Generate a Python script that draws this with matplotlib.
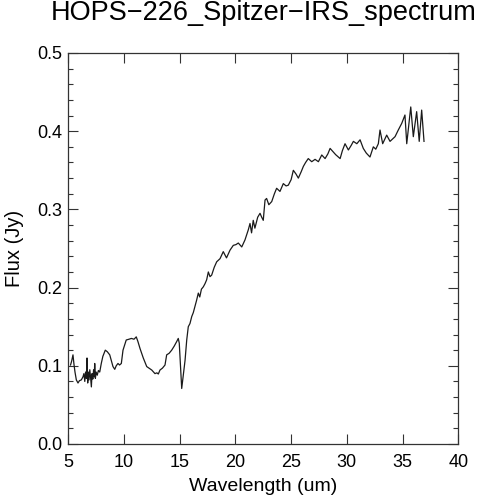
import matplotlib
matplotlib.use('Agg')
import matplotlib.pyplot as plt
from matplotlib.ticker import MultipleLocator

plt.rcParams['font.family'] = ['Liberation Sans', 'DejaVu Sans']

# spectrum (wavelength in um, flux in Jy)
wave = [5.2, 5.3, 5.42, 5.5, 5.6, 5.72, 5.87, 6.0, 6.17, 6.32, 6.4, 6.48, 6.55, 6.62,
        6.68, 6.74, 6.8, 6.86, 6.93, 7.0, 7.07, 7.13, 7.2, 7.27, 7.33, 7.37, 7.43,
        7.5, 7.6, 7.7, 7.82, 7.96, 8.1, 8.32, 8.5, 8.72, 9.01, 9.17, 9.3, 9.46,
        9.6, 9.76, 9.91, 10.2, 10.45, 10.66, 10.9, 11.1, 11.25, 11.44, 11.73, 12.04,
        12.25, 12.49, 12.78, 12.95, 13.08, 13.23, 13.45, 13.68, 13.83, 14.05, 14.28,
        14.5, 14.73, 14.87, 14.96, 15.18, 15.48, 15.63, 15.77, 15.92, 16.08, 16.22,
        16.37, 16.52, 16.67, 16.8, 16.95, 17.12, 17.27, 17.42, 17.57, 17.72, 17.87,
        18.1, 18.32, 18.62, 18.91, 19.2, 19.52, 19.81, 20.05, 20.26, 20.57, 20.86,
        21.16, 21.31, 21.45, 21.6, 21.75, 22.0, 22.21, 22.36, 22.5, 22.66, 22.8,
        23.0, 23.26, 23.5, 23.7, 24.0, 24.3, 24.55, 24.75, 25.0, 25.2, 25.45, 25.65,
        25.9, 26.1, 26.3, 26.54, 26.85, 27.15, 27.45, 27.75, 28.05, 28.3, 28.5,
        28.75, 29.0, 29.4, 29.6, 29.84, 30.14, 30.4, 30.59, 30.9, 31.19, 31.48,
        31.75, 32.08, 32.38, 32.6, 32.83, 32.98, 33.22, 33.58, 33.88, 34.1, 34.33,
        34.62, 34.93, 35.22, 35.38, 35.74, 35.97, 36.27, 36.5, 36.72, 36.93]
flux = [0.101, 0.106, 0.114, 0.103, 0.092, 0.082, 0.078, 0.081, 0.082, 0.086, 0.090,
        0.080, 0.092, 0.084, 0.110, 0.078, 0.092, 0.082, 0.095, 0.085, 0.073, 0.090,
        0.083, 0.095, 0.086, 0.103, 0.084, 0.092, 0.088, 0.094, 0.092, 0.103, 0.112,
        0.120, 0.118, 0.114, 0.099, 0.0955, 0.100, 0.103, 0.101, 0.103, 0.120, 0.133,
        0.134, 0.135, 0.134, 0.137, 0.131, 0.122, 0.110, 0.099, 0.097, 0.0946, 0.090,
        0.091, 0.0895, 0.0946, 0.097, 0.101, 0.114, 0.116, 0.120, 0.125, 0.131, 0.135,
        0.129, 0.071, 0.107, 0.133, 0.150, 0.154, 0.163, 0.168, 0.176, 0.184, 0.193,
        0.188, 0.198, 0.201, 0.205, 0.210, 0.220, 0.214, 0.216, 0.226, 0.233, 0.237,
        0.246, 0.238, 0.248, 0.254, 0.255, 0.257, 0.252, 0.261, 0.274, 0.282, 0.270,
        0.286, 0.276, 0.290, 0.295, 0.290, 0.286, 0.312, 0.314, 0.306, 0.310, 0.320,
        0.327, 0.323, 0.333, 0.330, 0.331, 0.338, 0.350, 0.345, 0.340, 0.348, 0.355,
        0.360, 0.365, 0.361, 0.364, 0.361, 0.3696, 0.365, 0.371, 0.378, 0.374, 0.370,
        0.365, 0.375, 0.384, 0.376, 0.382, 0.387, 0.384, 0.389, 0.378, 0.372, 0.367,
        0.380, 0.377, 0.384, 0.4015, 0.384, 0.395, 0.387, 0.390, 0.393, 0.4015, 0.410,
        0.4207, 0.384, 0.431, 0.393, 0.425, 0.387, 0.427, 0.387]

fig = plt.figure(figsize=(4.79, 5.0), dpi=100)
ax = fig.add_axes([0.1426, 0.112, 0.8140, 0.782])

ax.plot(wave, flux, color='#1a1a1a', lw=0.9)

ax.set_xlim(5, 40)
ax.set_ylim(0, 0.5)
ax.xaxis.set_major_locator(MultipleLocator(5))
ax.yaxis.set_major_locator(MultipleLocator(0.1))
ax.yaxis.set_minor_locator(MultipleLocator(0.02))
ax.yaxis.set_major_formatter(plt.FormatStrFormatter('%.1f'))
ax.tick_params(which='both', direction='in', top=True, right=True, width=0.8,
               labelsize=13, color='#333333')
ax.tick_params(which='major', length=7)
ax.tick_params(which='minor', length=3.5)
ax.tick_params(axis='x', pad=7)
ax.tick_params(axis='y', pad=4.5)
for s in ax.spines.values():
    s.set_linewidth(0.9)
    s.set_color('#333333')

ax.set_xlabel('Wavelength (um)', fontsize=14, labelpad=5)
ax.set_ylabel('Flux (Jy)', fontsize=14.5, labelpad=9)
ax.set_title('HOPS\u2212226_Spitzer\u2212IRS_spectrum', fontsize=19.5, pad=24)

fig.savefig('out.png', dpi=100)
